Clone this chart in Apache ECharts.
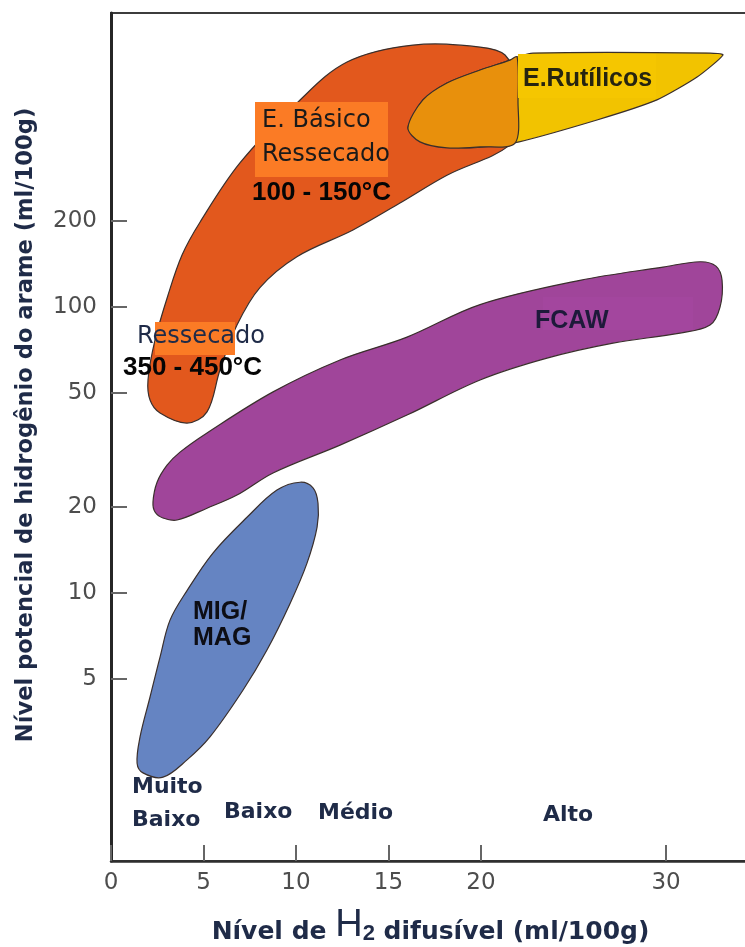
<!DOCTYPE html>
<html>
<head>
<meta charset="utf-8">
<script src="https://cdn.jsdelivr.net/npm/echarts@6/dist/echarts.min.js"></script>
<style>
  html, body { margin: 0; padding: 0; background: #fff; overflow: hidden; }
  #chart { width: 745px; height: 947px; }
</style>
</head>
<body>
<div id="chart"></div>
<script>
// Axis tick values
const xTicks = [0, 5, 10, 15, 20, 30];
const yTicks = [5, 10, 20, 50, 100, 200];

// Region outlines: x = diffusible H2 (ml/100g), y = wire hydrogen potential (ml/100g)
const basicX = [4.11, 5.19, 5.89, 6.81, 8.05, 10.05, 13.08, 15.62, 18.16, 21.57, 21.89, 21.84, 21.3, 19.95, 16.32, 12.76, 10.05, 6.97, 4.81, 3.84, 3.08, 2.38, 2.0, 2.11, 2.65];
const basicY = [39.3, 43.0, 60.2, 86.5, 117, 150, 186, 231, 289, 369, 451, 622, 761, 811, 824, 719, 517, 319, 198, 152, 110, 76.7, 55.6, 47.3, 42.6];

const rutileX = [16.05, 16.86, 18.16, 19.95, 21.57, 21.95, 22.81, 32.38, 33.08, 31.68, 29.51, 26.27, 21.73, 19.03, 16.7];
const rutileY = [423, 530, 607, 674, 730, 749, 773, 773, 761, 637, 530, 451, 374, 360, 384];

const overlapX = [16.05, 16.86, 18.16, 19.95, 21.57, 21.95, 22.0, 21.84, 19.95, 18.16, 16.7];
const overlapY = [423, 530, 607, 674, 730, 749, 530, 374, 363, 360, 378];

const fcawX = [2.27, 2.49, 3.03, 3.73, 5.19, 8.76, 12.38, 16.0, 19.95, 25.35, 29.84, 31.84, 32.7, 33.03, 32.92, 32.38, 30.76, 27.14, 23.57, 19.95, 16.0, 12.38, 8.76, 6.81, 5.19, 3.57, 2.81, 2.38];
const fcawY = [20.8, 24.4, 28.0, 31.1, 36.3, 50.5, 65.3, 78.5, 102, 124, 138, 144, 139, 124, 100, 86.5, 81.1, 74.8, 66.3, 55.6, 41.9, 32.9, 26.3, 22.0, 19.8, 18.0, 18.3, 19.2];

const migX = [10.22, 10.92, 11.19, 11.14, 10.59, 9.68, 8.43, 7.14, 5.35, 4.11, 2.81, 1.73, 1.41, 1.57, 2.11, 2.65, 3.19, 4.11, 5.51, 7.35, 8.97];
const migY = [24.4, 23.3, 20.6, 17.0, 12.7, 9.2, 6.32, 4.58, 3.14, 2.61, 2.27, 2.35, 2.54, 3.14, 4.33, 5.97, 8.04, 10.2, 13.8, 18.4, 22.9];

const NAVY = '#1f2b48';

function regionSeries(name, xs, ys, fill, smooth, z) {
  return {
    type: 'custom',
    name: name,
    z: z,
    silent: true,
    data: xs.map((x, i) => [x, ys[i]]),
    encode: { x: 0, y: 1 },
    renderItem: function (params, api) {
      if (params.dataIndex !== 0) return null;
      const pts = xs.map((x, i) => api.coord([x, ys[i]]));
      return {
        type: 'polygon',
        shape: { points: pts, smooth: smooth },
        style: { fill: fill, stroke: '#3a2f2c', lineWidth: 1.2 }
      };
    }
  };
}

// caption text: (x = left edge, y = vertical centre) in pixels
function label(text, x, y, font, color) {
  return {
    type: 'text', z: 100, x: x, y: y,
    style: { text: text, font: font, fill: color, textAlign: 'left', textVerticalAlign: 'middle' }
  };
}

const chart = echarts.init(document.getElementById('chart'), null, { renderer: 'canvas' });

chart.setOption({
  backgroundColor: '#ffffff',
  animation: false,
  grid: {
    left: 111, top: 13, right: -5, bottom: 86,
    outerBoundsMode: 'none',
    containLabel: false,
    show: true, borderColor: '#3c3c3c', borderWidth: 2
  },
  xAxis: {
    type: 'value', min: 0, max: 34.54,
    name: '{a|Nível de }{h|H}{s|2}{a| difusível (ml/100g)}',
    nameLocation: 'middle', nameGap: 50,
    nameTextStyle: {
      rich: {
        a: { fontFamily: 'DejaVu Sans', fontWeight: 'bold', fontSize: 25, color: NAVY, lineHeight: 25, verticalAlign: 'bottom' },
        h: { fontFamily: 'Liberation Sans', fontWeight: 'normal', fontSize: 38, color: NAVY, lineHeight: 34, verticalAlign: 'bottom' },
        s: { fontFamily: 'Liberation Sans', fontWeight: 'bold', fontSize: 22, color: NAVY, lineHeight: 22, verticalAlign: 'bottom' }
      }
    },
    axisLine: { show: true, onZero: false, lineStyle: { color: '#2e2e2e', width: 2.5 } },
    axisTick: { show: true, inside: true, length: 16, customValues: xTicks, lineStyle: { color: '#666', width: 2 } },
    axisLabel: { customValues: xTicks, margin: 11, fontFamily: 'DejaVu Sans', fontSize: 23, color: '#4d4d4d' },
    splitLine: { show: false }
  },
  yAxis: {
    type: 'log', logBase: 10, min: 1.156, max: 1067,
    name: 'Nível potencial de hidrogênio do arame (ml/100g)',
    nameLocation: 'middle', nameRotate: 90, nameGap: 73,
    nameTextStyle: { fontFamily: 'DejaVu Sans', fontWeight: 'bold', fontSize: 22.6, color: NAVY, padding: [0, 0, 0, 24] },
    axisLine: { show: true, onZero: false, lineStyle: { color: '#262626', width: 3 } },
    axisTick: { show: true, inside: true, length: 16, customValues: yTicks, lineStyle: { color: '#666', width: 2 } },
    axisLabel: { customValues: yTicks, margin: 14, fontFamily: 'DejaVu Sans', fontSize: 23, color: '#4d4d4d' },
    minorTick: { show: false },
    splitLine: { show: false }
  },
  series: [
    regionSeries('FCAW', fcawX, fcawY, '#A0459A', 0.35, 2),
    regionSeries('MIG/MAG', migX, migY, '#6584C2', 0.35, 2),
    regionSeries('E. Básico', basicX, basicY, '#E2581D', 0.35, 3),
    regionSeries('E. Rutílicos', rutileX, rutileY, '#F2C300', 0.2, 4),
    regionSeries('Sobreposição', overlapX, overlapY, '#E8900C', 0.3, 5)
  ],
  graphic: [
    // highlight boxes behind the region captions
    { type: 'rect', z: 50, shape: { x: 255, y: 102, width: 133, height: 75 }, style: { fill: '#FB7B25' } },
    { type: 'rect', z: 50, shape: { x: 155, y: 322, width: 80, height: 33 }, style: { fill: '#FB7B25' } },
    { type: 'rect', z: 50, shape: { x: 518, y: 54, width: 138, height: 44 }, style: { fill: '#F5C600' } },
    { type: 'rect', z: 50, shape: { x: 543, y: 297, width: 150, height: 33 }, style: { fill: '#A3469E' } },

    label('E. Básico', 262, 121, 'normal 24px "DejaVu Sans"', '#1a1a1a'),
    label('Ressecado', 262, 155, 'normal 24px "DejaVu Sans"', '#1a1a1a'),
    label('100 - 150°C', 252, 193, 'bold 26px "Liberation Sans"', '#050505'),
    label('Ressecado', 137, 337, 'normal 24px "DejaVu Sans"', NAVY),
    label('350 - 450°C', 123, 368, 'bold 26px "Liberation Sans"', '#050505'),
    label('E.Rutílicos', 523, 79, 'bold 25px "Liberation Sans"', '#262410'),
    label('FCAW', 535, 321, 'bold 25px "Liberation Sans"', '#1e1a3a'),
    label('MIG/', 193, 612, 'bold 25px "Liberation Sans"', '#0d0d14'),
    label('MAG', 193, 638, 'bold 25px "Liberation Sans"', '#0d0d14'),

    label('Muito', 132, 787, 'bold 22px "DejaVu Sans"', NAVY),
    label('Baixo', 132, 820, 'bold 22px "DejaVu Sans"', NAVY),
    label('Baixo', 224, 812, 'bold 22px "DejaVu Sans"', NAVY),
    label('Médio', 318, 813, 'bold 22px "DejaVu Sans"', NAVY),
    label('Alto', 543, 815, 'bold 22px "DejaVu Sans"', NAVY)
  ]
});
</script>
</body>
</html>
